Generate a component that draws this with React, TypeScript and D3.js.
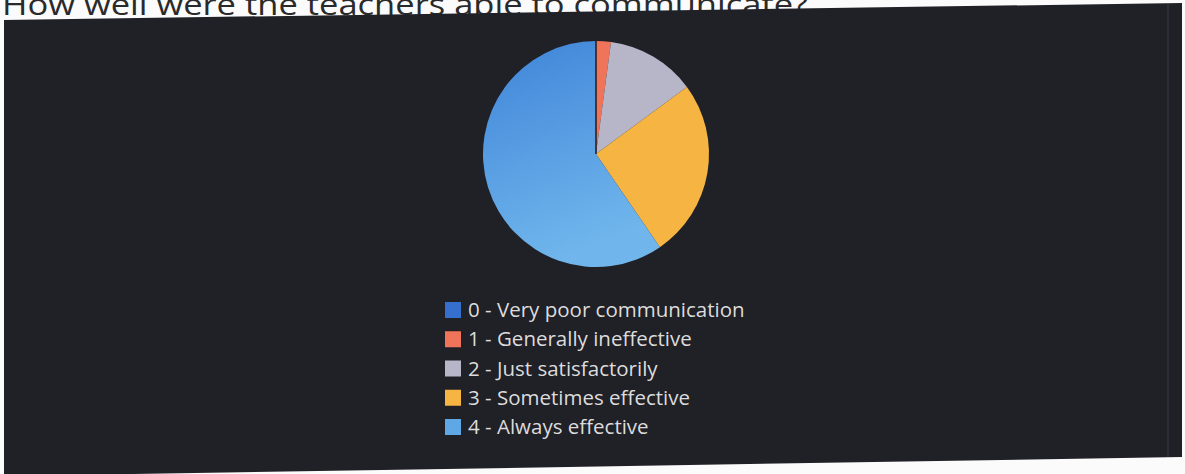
import React from "react";
import * as d3 from "d3";

const categories = [
  "0 - Very poor communication",
  "1 - Generally ineffective",
  "2 - Just satisfactorily",
  "3 - Sometimes effective",
  "4 - Always effective",
];
const counts = [0, 1, 6, 12, 28];
const colors = ["#3570cf", "#f0745a", "#b7b6c8", "#f6b443", "#5ea8e6"];
const title = "How well were the teachers able to communicate?";

export default function App() {
  const W = 1185, H = 474;
  const cx = 596, cy = 154, r = 113;
  const pie = d3.pie<number>().sort(null).value((d) => d)(counts);
  const arc = d3.arc<d3.PieArcDatum<number>>().innerRadius(0).outerRadius(r);
  const legendY = d3.scaleLinear().domain([0, 4]).range([310, 427]);
  return (
    <svg width={W} height={H} style={{ position: "absolute", left: 0, top: 0, background: "#fbfbfb" }}>
      <defs>
        <linearGradient id="blueGrad" x1="0" y1="0" x2="0.3" y2="1">
          <stop offset="0%" stopColor="#3f84d8" />
          <stop offset="100%" stopColor="#70b6ec" />
        </linearGradient>
      </defs>
      <text x={2} y={15} fontFamily="'Open Sans', sans-serif" fontSize={30} fill="#2a2a2a" textLength={806} lengthAdjust="spacingAndGlyphs">
        {title}
      </text>
      <polygon points="4,20 1182,3 1182,457 10,476 4,476" fill="#202027" />
      <line x1={1168} y1={4} x2={1168} y2={457} stroke="#3a3a42" strokeWidth={1} />
      <g transform={`translate(${cx},${cy})`}>
        {pie.map((p, i) => (
          <path key={i} d={arc(p) || ""} fill={i === 4 ? "url(#blueGrad)" : colors[i]} />
        ))}
        <line x1={0} y1={0} x2={0} y2={-r} stroke="#1c1c22" strokeWidth={1.5} />
      </g>
      <g fontFamily="'Open Sans', sans-serif" fontSize={20.5} fill="#dcdcdc">
        {categories.map((c, i) => (
          <g key={c} transform={`translate(445,${legendY(i)})`}>
            <rect x={0} y={-8} width={16} height={16} fill={colors[i]} />
            <text x={23} y={7}>{c}</text>
          </g>
        ))}
      </g>
    </svg>
  );
}
